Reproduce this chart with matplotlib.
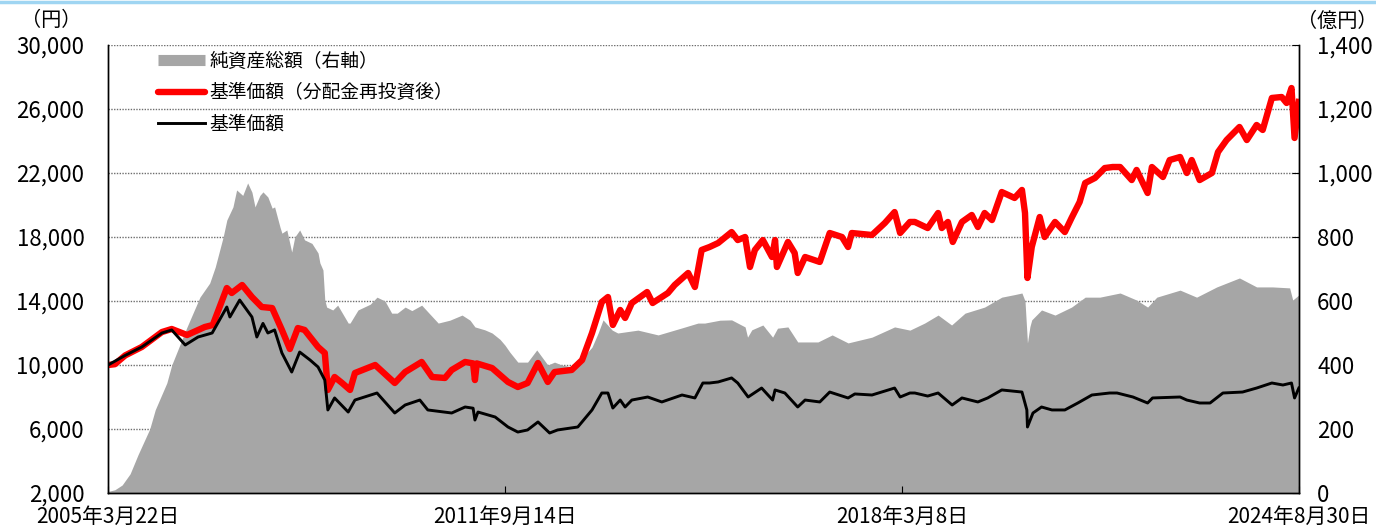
import numpy as np
import pandas as pd
import matplotlib
matplotlib.use("Agg")
import matplotlib.pyplot as plt
from matplotlib.lines import Line2D

plt.rcParams["font.family"] = ["Noto Sans CJK JP", "DejaVu Sans"]

# ------------------------------------------------
# data (decimal years)
#

aum_years = [
    2005.22, 2005.33, 2005.45, 2005.58, 2005.71, 2005.90, 2005.99, 2006.18, 2006.26, 2006.51,
    2006.72, 2006.88, 2006.97, 2007.10, 2007.16, 2007.26, 2007.32, 2007.42, 2007.50, 2007.57,
    2007.62, 2007.70, 2007.75, 2007.83, 2007.90, 2007.94, 2008.03, 2008.06, 2008.14, 2008.22,
    2008.27, 2008.35, 2008.43, 2008.55, 2008.65, 2008.68, 2008.73, 2008.76, 2008.79, 2008.89,
    2008.97, 2009.14, 2009.17, 2009.30, 2009.50, 2009.61, 2009.74, 2009.85, 2009.94, 2010.07,
    2010.18, 2010.34, 2010.47, 2010.61, 2010.80, 2011.00, 2011.13, 2011.21, 2011.37, 2011.49,
    2011.62, 2011.70, 2011.78, 2011.91, 2012.07, 2012.22, 2012.40, 2012.51, 2012.63, 2012.79,
    2012.96, 2013.12, 2013.22, 2013.30, 2013.45, 2013.54, 2013.87, 2014.20, 2014.59, 2014.85,
    2014.96, 2015.21, 2015.40, 2015.62, 2015.66, 2015.73, 2015.91, 2016.07, 2016.15, 2016.32,
    2016.48, 2016.81, 2017.04, 2017.30, 2017.69, 2018.06, 2018.31, 2018.55, 2018.77, 2018.99,
    2019.21, 2019.53, 2019.81, 2020.02, 2020.14, 2020.19, 2020.23, 2020.27, 2020.30, 2020.46,
    2020.68, 2020.95, 2021.17, 2021.41, 2021.74, 2022.01, 2022.19, 2022.34, 2022.72, 2022.99,
    2023.32, 2023.69, 2023.97, 2024.23, 2024.51, 2024.56, 2024.66,
]
aum_values = [
    5, 10, 25, 60, 120, 200, 260, 344, 400, 519,
    612, 656, 706, 800, 853, 894, 947, 930, 969, 940,
    894, 930, 941, 925, 890, 894, 830, 812, 822, 753,
    800, 822, 791, 780, 750, 719, 697, 603, 581, 572,
    587, 531, 531, 572, 590, 612, 600, 562, 562, 581,
    570, 587, 560, 531, 540, 556, 540, 519, 510, 500,
    480, 462, 440, 409, 409, 447, 400, 409, 400, 394,
    420, 456, 500, 541, 509, 500, 509, 494, 516, 531,
    531, 540, 541, 519, 487, 510, 525, 487, 515, 519,
    472, 472, 494, 469, 487, 519, 509, 531, 556, 525,
    562, 581, 612, 620, 625, 600, 469, 520, 541, 572,
    556, 581, 612, 612, 625, 603, 581, 612, 634, 612,
    644, 672, 644, 644, 641, 603, 619,
]

reinv_years = [
    2005.22, 2005.33, 2005.50, 2005.77, 2006.10, 2006.26, 2006.51, 2006.80, 2006.93, 2007.16,
    2007.24, 2007.41, 2007.57, 2007.73, 2007.90, 2008.06, 2008.19, 2008.32, 2008.43, 2008.52,
    2008.65, 2008.76, 2008.81, 2008.92, 2009.04, 2009.17, 2009.25, 2009.58, 2009.90, 2010.07,
    2010.34, 2010.51, 2010.72, 2010.83, 2011.05, 2011.18, 2011.21, 2011.24, 2011.49, 2011.75,
    2011.91, 2012.07, 2012.24, 2012.40, 2012.51, 2012.79, 2012.96, 2013.12, 2013.28, 2013.38,
    2013.46, 2013.58, 2013.66, 2013.77, 2014.02, 2014.11, 2014.36, 2014.47, 2014.69, 2014.80,
    2014.91, 2015.04, 2015.18, 2015.40, 2015.50, 2015.62, 2015.70, 2015.78, 2015.91, 2016.06,
    2016.11, 2016.14, 2016.32, 2016.43, 2016.48, 2016.60, 2016.84, 2017.00, 2017.20, 2017.30,
    2017.36, 2017.69, 2017.90, 2018.06, 2018.15, 2018.31, 2018.39, 2018.60, 2018.77, 2018.83,
    2018.93, 2019.01, 2019.16, 2019.32, 2019.42, 2019.53, 2019.65, 2019.81, 2020.02, 2020.14,
    2020.19, 2020.23, 2020.30, 2020.43, 2020.51, 2020.68, 2020.84, 2020.95, 2021.08, 2021.17,
    2021.33, 2021.49, 2021.62, 2021.74, 2021.93, 2022.01, 2022.19, 2022.26, 2022.44, 2022.55,
    2022.72, 2022.83, 2022.91, 2023.04, 2023.24, 2023.34, 2023.48, 2023.69, 2023.81, 2023.97,
    2024.07, 2024.14, 2024.22, 2024.38, 2024.46, 2024.54, 2024.59, 2024.66,
]
reinv_values = [
    10000, 10050, 10600, 11125, 12060, 12250, 11875, 12375, 12500, 14810,
    14500, 15000, 14250, 13625, 13560, 12190, 11000, 12310, 12190, 11750,
    11125, 10750, 8440, 9250, 8875, 8440, 9500, 10000, 8875, 9560,
    10190, 9250, 9190, 9690, 10190, 10100, 9060, 10100, 9810, 8940,
    8625, 8875, 10125, 8940, 9560, 9690, 10310, 12000, 13940, 14250,
    12500, 13440, 12940, 13875, 14560, 13875, 14500, 15000, 15750, 14875,
    17190, 17375, 17625, 18310, 17810, 18000, 16125, 17190, 17810, 16750,
    17810, 16125, 17690, 17000, 15750, 16750, 16440, 18250, 18000, 17375,
    18250, 18125, 18875, 19560, 18250, 18940, 18940, 18560, 19500, 18560,
    18940, 17690, 18940, 19375, 18625, 19500, 19060, 20810, 20440, 20940,
    19500, 15440, 17375, 19250, 18000, 18940, 18310, 19190, 20190, 21375,
    21690, 22310, 22375, 22375, 21560, 22190, 20750, 22375, 21750, 22810,
    23000, 22000, 22810, 21560, 22000, 23310, 24060, 24875, 24060, 25000,
    24690, 25625, 26690, 26750, 26375, 27310, 24190, 26440,
]

nav_years = [
    2005.22, 2005.50, 2005.77, 2006.10, 2006.26, 2006.48, 2006.69, 2006.92, 2007.16, 2007.21,
    2007.37, 2007.57, 2007.65, 2007.75, 2007.83, 2007.94, 2008.06, 2008.22, 2008.35, 2008.52,
    2008.65, 2008.76, 2008.81, 2008.92, 2009.14, 2009.25, 2009.61, 2009.90, 2010.07, 2010.31,
    2010.44, 2010.83, 2011.05, 2011.18, 2011.21, 2011.26, 2011.54, 2011.75, 2011.91, 2012.07,
    2012.24, 2012.43, 2012.56, 2012.89, 2013.12, 2013.28, 2013.38, 2013.46, 2013.58, 2013.66,
    2013.77, 2014.03, 2014.26, 2014.59, 2014.80, 2014.93, 2015.04, 2015.18, 2015.40, 2015.50,
    2015.67, 2015.89, 2016.07, 2016.11, 2016.27, 2016.48, 2016.60, 2016.84, 2017.00, 2017.30,
    2017.41, 2017.69, 2018.06, 2018.15, 2018.31, 2018.39, 2018.60, 2018.77, 2019.00, 2019.16,
    2019.42, 2019.58, 2019.81, 2020.14, 2020.22, 2020.23, 2020.32, 2020.46, 2020.63, 2020.84,
    2021.05, 2021.28, 2021.57, 2021.69, 2021.95, 2022.19, 2022.27, 2022.72, 2022.83, 2023.04,
    2023.21, 2023.42, 2023.74, 2023.97, 2024.22, 2024.40, 2024.54, 2024.59, 2024.66,
]
nav_values = [
    10000, 10600, 11125, 12000, 12190, 11250, 11750, 12000, 13625, 13000,
    14060, 13000, 11750, 12600, 12000, 12190, 10750, 9560, 10810, 10310,
    9875, 9060, 7190, 7940, 7060, 7810, 8250, 7000, 7500, 7810,
    7190, 7000, 7375, 7300, 6560, 7060, 6750, 6125, 5810, 5940,
    6440, 5750, 5940, 6125, 7190, 8250, 8250, 7310, 7810, 7375,
    7810, 8000, 7690, 8125, 7940, 8875, 8875, 8940, 9190, 8875,
    8000, 8560, 7810, 8440, 8250, 7375, 7810, 7690, 8310, 7940,
    8190, 8125, 8560, 8000, 8250, 8250, 8060, 8250, 7500, 7940,
    7690, 7940, 8440, 8310, 7190, 6125, 7000, 7375, 7190, 7190,
    7625, 8125, 8250, 8250, 8000, 7625, 7940, 8000, 7810, 7625,
    7625, 8250, 8310, 8560, 8875, 8750, 8875, 7940, 8560,
]

tick_dates = ["2005-03-22", "2011-09-14", "2018-03-08", "2024-08-30"]
tick_labels = ["2005年3月22日", "2011年9月14日", "2018年3月8日", "2024年8月30日"]
left_ticks = [2000, 6000, 10000, 14000, 18000, 22000, 26000, 30000]
right_ticks = [0, 200, 400, 600, 800, 1000, 1200, 1400]

legend_labels = ["純資産総額（右軸）", "基準価額（分配金再投資後）", "基準価額"]


def to_dates(years):
    out = []
    for y in years:
        yr = int(y)
        out.append(pd.Timestamp(year=yr, month=1, day=1) + pd.Timedelta(days=(y - yr) * 365.25))
    return out


start = pd.Timestamp(tick_dates[0])
end = pd.Timestamp(tick_dates[-1])

aum_dates = [min(max(d, start), end) for d in to_dates(aum_years)]
reinv_dates = [min(max(d, start), end) for d in to_dates(reinv_years)]
nav_dates = [min(max(d, start), end) for d in to_dates(nav_years)]

# ------------------------------------------------
# figure
#
fig = plt.figure(figsize=(13.76, 5.27), dpi=100)
ax = fig.add_axes([108 / 1376, 34 / 527, 1191 / 1376, 448 / 527])
ax2 = ax.twinx()
ax.set_zorder(ax2.get_zorder() + 1)
ax.patch.set_visible(False)

GRAY = "#a6a6a6"

# net assets (right axis) in the back, with grid below it
ax2.fill_between(aum_dates, 0, aum_values, color=GRAY, lw=0, zorder=2)
ax2.set_ylim(0, 1400)
ax2.set_yticks(right_ticks)
ax2.set_yticklabels([f"{v:,}" for v in right_ticks])
ax2.yaxis.grid(True, linestyle=(0, (1, 1)), color="#6e6e6e", lw=1.0)
ax2.set_axisbelow(True)
ax2.tick_params(axis="y", direction="in", length=5, pad=13, labelsize=16)

# NAV lines (left axis)
ax.plot(reinv_dates, reinv_values, color="#ff0000", lw=4.6, solid_joinstyle="round")
ax.plot(nav_dates, nav_values, color="black", lw=2.1, solid_joinstyle="round")
ax.set_ylim(2000, 30000)
ax.set_yticks(left_ticks)
ax.set_yticklabels([f"{v:,}" for v in left_ticks])
ax.tick_params(axis="y", length=0, pad=17, labelsize=16)

ax.set_xlim(start, end)
ax.set_xticks([pd.Timestamp(d) for d in tick_dates])
ax.set_xticklabels(tick_labels)
ax.tick_params(axis="x", direction="in", length=5, pad=9, labelsize=15)

for a in (ax, ax2):
    a.spines["top"].set_visible(False)
    for s in ("left", "right", "bottom"):
        a.spines[s].set_color("black")
        a.spines[s].set_linewidth(1.0)

# legend
handles = [
    Line2D([], [], color=GRAY, lw=8, solid_capstyle="butt"),
    Line2D([], [], color="#ff0000", lw=4.6, solid_capstyle="round"),
    Line2D([], [], color="black", lw=2.1),
]
ax.legend(handles, legend_labels, loc="upper left", bbox_to_anchor=(0.042, 0.987),
          frameon=False, fontsize=13.5, handlelength=2.5, handletextpad=0.25,
          labelspacing=0.55, borderpad=0, borderaxespad=0)

# units
fig.text(51 / 1376, 1 - 21 / 527, "（円）", ha="center", va="center", fontsize=14.5)
fig.text(1337 / 1376, 1 - 21 / 527, "（億円）", ha="center", va="center", fontsize=14.5)

# light blue rule at the very top
fig.add_artist(Line2D([0, 1], [0.997, 0.997], transform=fig.transFigure,
                      color="#9fd5f2", lw=2.5))

fig.savefig("out.png", dpi=100, facecolor="white")
